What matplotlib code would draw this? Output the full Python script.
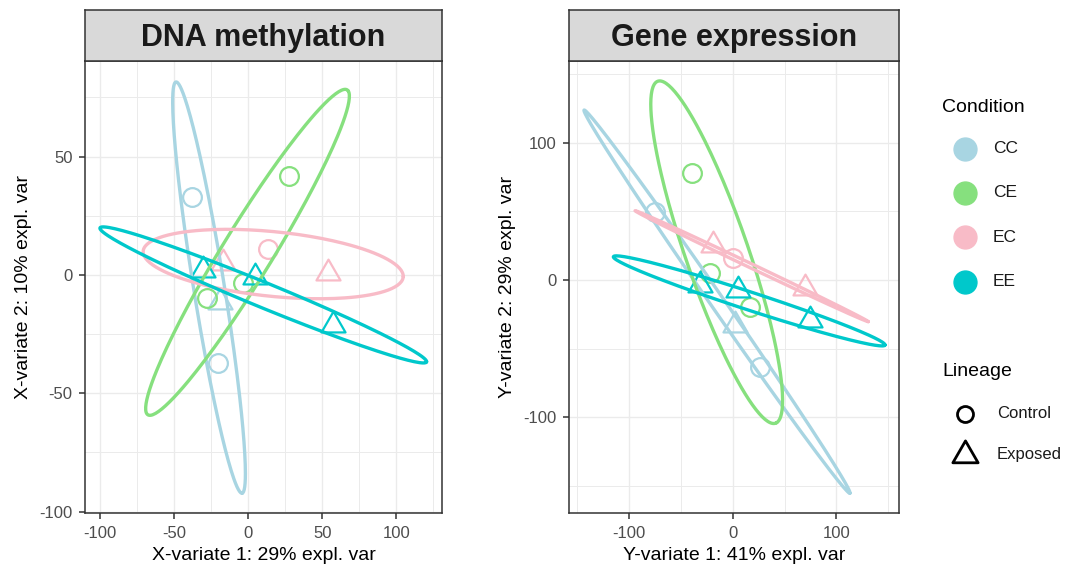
import numpy as np
import matplotlib
matplotlib.use("Agg")
import matplotlib.pyplot as plt
from matplotlib.path import Path
from matplotlib.ticker import MultipleLocator

plt.rcParams["font.family"] = ["Liberation Sans", "DejaVu Sans"]
plt.rcParams["axes.unicode_minus"] = False

conditions = ["CC", "CE", "EC", "EE"]
cond_colors = ["#A8D5E2", "#86E07E", "#F8BBC7", "#00C8CB"]
lineages = ["Control", "Exposed"]

# --- DNA methylation (X-variates) ---
dna_cond = ["CC", "CC", "CC", "CE", "CE", "CE", "EC", "EC", "EC", "EE", "EE", "EE"]
dna_lin = ["Control", "Control", "Exposed", "Control", "Control", "Control",
           "Control", "Exposed", "Exposed", "Exposed", "Exposed", "Exposed"]
dna_x = [-38.2, -20.7, -19.1, 27.7, -3.4, -28.0, 13.5, 54.0, -16.9, -30.4, 4.5, 57.4]
dna_y = [32.9, -37.4, -11.3, 41.9, -3.3, -9.9, 10.9, 0.7, 5.0, 2.1, -0.7, -21.2]
# ellipse tips (major axis ends) and minor semi-axis, per condition
dna_tip1_x = [-49.0, -68.6, -71.0, -100.2]
dna_tip1_y = [81.5, -58.6, 9.9, 19.8]
dna_tip2_x = [-4.0, 67.6, 104.7, 120.5]
dna_tip2_y = [-92.2, 77.7, -0.7, -36.7]
dna_minor = [10.2, 14.1, 13.7, 5.5]

# --- Gene expression (Y-variates) ---
gene_cond = ["CC", "CC", "CC", "CE", "CE", "CE", "EC", "EC", "EC", "EE", "EE", "EE"]
gene_lin = ["Control", "Control", "Exposed", "Control", "Control", "Control",
            "Exposed", "Exposed", "Control", "Exposed", "Exposed", "Exposed"]
gene_x = [-74.9, 26.3, 2.2, -39.0, -21.9, 16.7, -18.7, 69.7, 0.6, -31.5, 5.4, 74.5]
gene_y = [49.7, -63.0, -32.7, 77.6, 4.9, -19.4, 25.5, -6.0, 15.8, -3.6, -7.3, -29.1]
gene_tip1_x = [-143.4, -73.3, -94.2, -115.1]
gene_tip1_y = [123.6, 144.2, 50.4, 16.9]
gene_tip2_x = [113.1, 42.4, 130.8, 146.9]
gene_tip2_y = [-155.1, -103.8, -30.3, -47.3]
gene_minor = [5.9, 29.1, 1.6, 6.7]

TRI = Path([(0, 1), (-0.866, -0.5), (0.866, -0.5), (0, 1)],
           [Path.MOVETO, Path.LINETO, Path.LINETO, Path.CLOSEPOLY])
MARKERS = {"Control": ("o", 13.5), "Exposed": (TRI, 20)}
GRID = "#EBEBEB"
DARK = "#333333"


def ellipse_xy(x1, y1, x2, y2, b, n=200):
    c = np.array([(x1 + x2) / 2, (y1 + y2) / 2])
    u = np.array([(x2 - x1) / 2, (y2 - y1) / 2])
    v = np.array([-u[1], u[0]]) / np.hypot(*u) * b
    t = np.linspace(0, 2 * np.pi, n)
    pts = c[:, None] + u[:, None] * np.cos(t) + v[:, None] * np.sin(t)
    return pts[0], pts[1]


def panel(rect, strip_title, xs, ys, cond, lin, tips, minor, xlim, ylim, step, xlabel, ylabel):
    ax = fig.add_axes(rect)
    ax.set_xlim(*xlim)
    ax.set_ylim(*ylim)
    ax.xaxis.set_major_locator(MultipleLocator(step[0]))
    ax.yaxis.set_major_locator(MultipleLocator(step[1]))
    ax.xaxis.set_minor_locator(MultipleLocator(step[0] / 2))
    ax.yaxis.set_minor_locator(MultipleLocator(step[1] / 2))
    ax.grid(which="major", color=GRID, lw=1.0)
    ax.grid(which="minor", color=GRID, lw=0.7)
    ax.set_axisbelow(True)
    ax.tick_params(which="minor", length=0)
    ax.tick_params(which="major", length=4, width=1.1, color=DARK,
                   labelsize=12, labelcolor="#4D4D4D", pad=5)
    for s in ax.spines.values():
        s.set_color(DARK)
        s.set_linewidth(1.1)

    for c, col in zip(conditions, cond_colors):
        for l in lineages:
            idx = [i for i in range(len(xs)) if cond[i] == c and lin[i] == l]
            if not idx:
                continue
            m, ms = MARKERS[l]
            ax.plot([xs[i] for i in idx], [ys[i] for i in idx], ls="none", marker=m,
                    ms=ms, mfc="none", mec=col, mew=1.6, zorder=3)
    for k, col in enumerate(cond_colors):
        ex, ey = ellipse_xy(tips[0][k], tips[1][k], tips[2][k], tips[3][k], minor[k])
        ax.plot(ex, ey, color=col, lw=2.4, zorder=4, solid_capstyle="round")

    ax.set_xlabel(xlabel, fontsize=14, labelpad=5)
    ax.set_ylabel(ylabel, fontsize=14, labelpad=5)

    sax = fig.add_axes([rect[0], rect[1] + rect[3], rect[2], 51 / 574])
    sax.set_facecolor("#D9D9D9")
    sax.set_xticks([])
    sax.set_yticks([])
    for s in sax.spines.values():
        s.set_color(DARK)
        s.set_linewidth(1.1)
    sax.text(0.5, 0.45, strip_title, ha="center", va="center", fontsize=22,
             fontweight="bold", color="#1A1A1A", transform=sax.transAxes)
    return ax


fig = plt.figure(figsize=(10.66, 5.74), dpi=100)

panel([85 / 1066, 61 / 574, 357 / 1066, 452 / 574], "DNA methylation",
      dna_x, dna_y, dna_cond, dna_lin,
      (dna_tip1_x, dna_tip1_y, dna_tip2_x, dna_tip2_y), dna_minor,
      (-110.3, 130.9), (-100.6, 90.4), (50, 50),
      "X-variate 1: 29% expl. var", "X-variate 2: 10% expl. var")

panel([569 / 1066, 61 / 574, 330 / 1066, 452 / 574], "Gene expression",
      gene_x, gene_y, gene_cond, gene_lin,
      (gene_tip1_x, gene_tip1_y, gene_tip2_x, gene_tip2_y), gene_minor,
      (-157.9, 160.4), (-169.5, 159.3), (100, 100),
      "Y-variate 1: 41% expl. var", "Y-variate 2: 29% expl. var")

# legend drawn in pixel coordinates
lax = fig.add_axes([0, 0, 1, 1])
lax.set_xlim(0, 1066)
lax.set_ylim(574, 0)
lax.axis("off")
lax.text(942, 107, "Condition", fontsize=14, va="center", ha="left")
for k, (c, col) in enumerate(zip(conditions, cond_colors)):
    yy = 148.5 + k * 44.4
    lax.plot([964.5], [yy], marker="o", ms=16.5, mfc=col, mec=col, ls="none")
    lax.text(993, yy, c, fontsize=12.5, va="center", ha="left", color="#1A1A1A")
lax.text(942, 372, "Lineage", fontsize=14, va="center", ha="left")
for k, l in enumerate(lineages):
    yy = 413.5 + k * 41.5
    m, ms = MARKERS[l]
    lax.plot([965], [yy], marker=m, ms=ms * 1.05 if l == "Exposed" else 11.5,
             mfc="none", mec="black", mew=2.0, ls="none")
    lax.text(997, yy, l, fontsize=12, va="center", ha="left", color="#1A1A1A")

fig.savefig("out.png", dpi=100)
